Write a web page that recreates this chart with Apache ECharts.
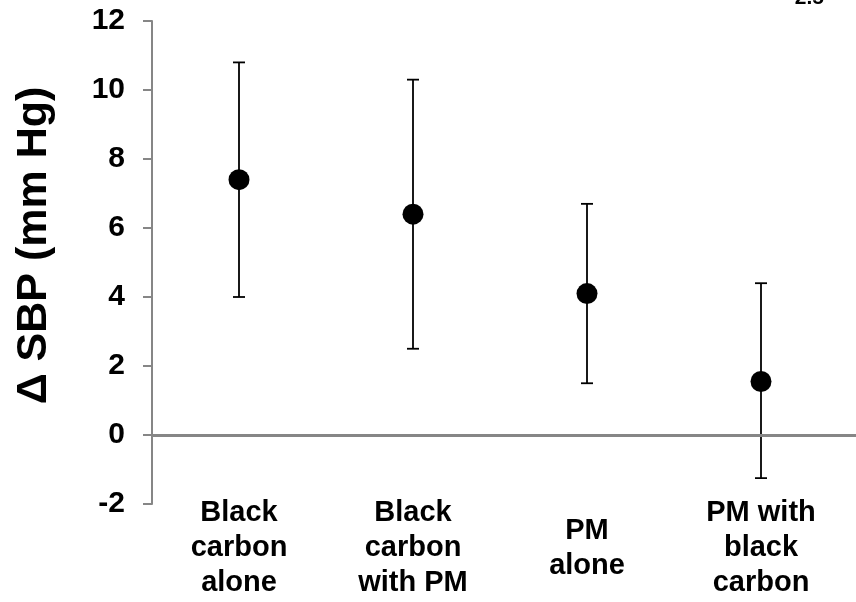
<!DOCTYPE html>
<html>
<head>
<meta charset="utf-8">
<script src="https://cdn.jsdelivr.net/npm/echarts@6/dist/echarts.min.js"></script>
<style>html,body{margin:0;padding:0;background:#fff}#c{width:856px;height:602px}</style>
</head>
<body>
<div id="c"></div>
<script>
var categories = ['Black\ncarbon\nalone', 'Black\ncarbon\nwith PM', 'PM\nalone', 'PM with\nblack\ncarbon'];
var means = [7.4, 6.4, 4.1, 1.55];
var lower = [4.0, 2.5, 1.5, -1.25];
var upper = [10.8, 10.3, 6.7, 4.4];
var yTicks = { min: -2, max: 12, interval: 2 };

var FONT = "'Liberation Sans', Arial, sans-serif";
var chart = echarts.init(document.getElementById('c'));

var errData = categories.map(function (c, i) { return [i, lower[i], upper[i]]; });

chart.setOption({
  animation: false,
  title: {
    text: '2.5', right: 27, top: -17,
    textStyle: { fontFamily: FONT, fontWeight: 'bold', fontSize: 21, color: '#000' }
  },
  grid: [
    { left: 152, right: 8, top: 21, bottom: 98 },
    { left: 152, right: 0, top: 21, bottom: 98 }
  ],
  xAxis: [
    {
      type: 'category', gridIndex: 0, data: categories, boundaryGap: true,
      axisLine: { show: false }, axisTick: { show: false },
      axisLabel: {
        interval: 0, margin: 44, verticalAlign: 'middle', lineHeight: 35,
        fontFamily: FONT, fontWeight: 'bold', fontSize: 29, color: '#000'
      }
    },
    { type: 'value', gridIndex: 1, min: 0, max: 1, show: false }
  ],
  yAxis: [
    {
      type: 'value', gridIndex: 0, min: yTicks.min, max: yTicks.max, interval: yTicks.interval,
      name: 'Δ SBP (mm Hg)', nameLocation: 'middle', nameGap: 96, nameRotate: 90,
      nameTextStyle: { fontFamily: FONT, fontWeight: 'bold', fontSize: 43, color: '#000', padding: [0, 0, 0, 34] },
      axisLine: { show: true, lineStyle: { color: '#868686', width: 2 } },
      axisTick: { show: true, inside: false, length: 9, lineStyle: { color: '#868686', width: 2 } },
      splitLine: { show: false },
      axisLabel: { margin: 27, fontFamily: FONT, fontWeight: 'bold', fontSize: 30, color: '#000' }
    },
    {
      type: 'value', gridIndex: 1, min: yTicks.min, max: yTicks.max, interval: yTicks.interval, show: false
    }
  ],
  series: [
    {
      type: 'line', xAxisIndex: 1, yAxisIndex: 1, data: [], silent: true,
      markLine: {
        silent: true, symbol: 'none', label: { show: false },
        lineStyle: { color: '#868686', width: 3, type: 'solid', opacity: 1 },
        data: [{ yAxis: 0 }]
      }
    },
    {
      type: 'custom', xAxisIndex: 0, yAxisIndex: 0, data: errData, z: 3,
      renderItem: function (params, api) {
        var x = api.value(0);
        var lo = api.coord([x, api.value(1)]);
        var hi = api.coord([x, api.value(2)]);
        var hw = 6;
        var st = { stroke: '#000', lineWidth: 1.8 };
        return {
          type: 'group',
          children: [
            { type: 'line', shape: { x1: lo[0], y1: lo[1], x2: hi[0], y2: hi[1] }, style: st },
            { type: 'line', shape: { x1: lo[0] - hw, y1: lo[1], x2: lo[0] + hw, y2: lo[1] }, style: st },
            { type: 'line', shape: { x1: hi[0] - hw, y1: hi[1], x2: hi[0] + hw, y2: hi[1] }, style: st }
          ]
        };
      }
    },
    {
      type: 'scatter', xAxisIndex: 0, yAxisIndex: 0, data: means, z: 4,
      symbol: 'circle', symbolSize: 21, itemStyle: { color: '#000', opacity: 1 }
    }
  ]
});
</script>
</body>
</html>
